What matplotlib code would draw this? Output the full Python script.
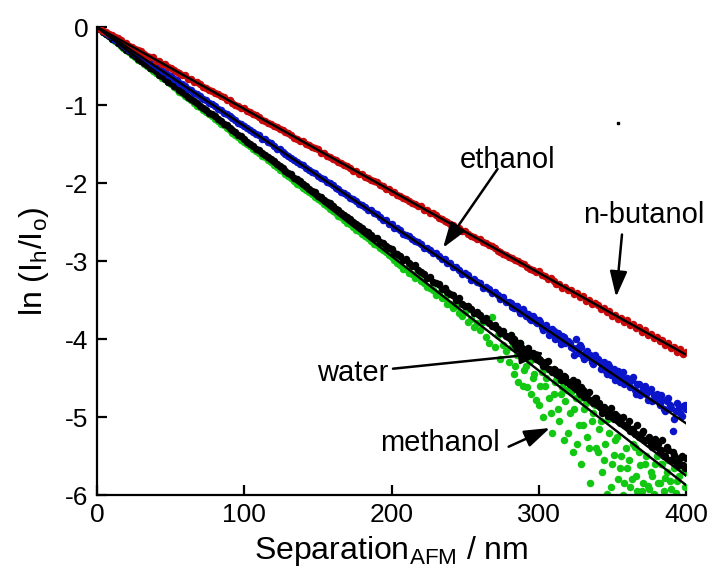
import numpy as np
import matplotlib
matplotlib.use("Agg")
import matplotlib.pyplot as plt

plt.rcParams['font.family'] = ['Liberation Sans', 'DejaVu Sans']

# sampling grid (nm) and the denser odd-nm points in the noisy tail
sep = np.arange(0, 401, 2)
sep_tail = np.arange(281, 400, 2)

# ln(Ih/Io) per liquid
butanol = [
    0.00, -0.02, -0.05, -0.06, -0.09, -0.10, -0.13, -0.14, -0.17, -0.20,
    -0.21, -0.24, -0.25, -0.28, -0.29, -0.31, -0.34, -0.37, -0.38, -0.39,
    -0.43, -0.44, -0.47, -0.48, -0.51, -0.52, -0.55, -0.58, -0.59, -0.61,
    -0.62, -0.66, -0.67, -0.70, -0.71, -0.73, -0.77, -0.78, -0.81, -0.82,
    -0.85, -0.86, -0.89, -0.90, -0.93, -0.94, -0.97, -1.00, -1.01, -1.04,
    -1.04, -1.08, -1.09, -1.12, -1.13, -1.15, -1.19, -1.20, -1.23, -1.24,
    -1.27, -1.28, -1.31, -1.32, -1.35, -1.36, -1.39, -1.42, -1.43, -1.46,
    -1.46, -1.50, -1.51, -1.54, -1.55, -1.57, -1.61, -1.62, -1.65, -1.66,
    -1.69, -1.70, -1.73, -1.74, -1.77, -1.78, -1.81, -1.84, -1.85, -1.88,
    -1.88, -1.92, -1.93, -1.96, -1.97, -1.99, -2.03, -2.04, -2.07, -2.08,
    -2.11, -2.12, -2.15, -2.16, -2.19, -2.20, -2.23, -2.26, -2.27, -2.30,
    -2.30, -2.34, -2.35, -2.38, -2.39, -2.41, -2.45, -2.46, -2.49, -2.50,
    -2.53, -2.54, -2.57, -2.58, -2.61, -2.62, -2.65, -2.68, -2.69, -2.72,
    -2.72, -2.76, -2.77, -2.80, -2.81, -2.83, -2.87, -2.88, -2.91, -2.92,
    -2.95, -2.96, -2.99, -3.00, -3.03, -3.04, -3.07, -3.10, -3.11, -3.14,
    -3.13, -3.18, -3.19, -3.23, -3.22, -3.25, -3.30, -3.29, -3.34, -3.33,
    -3.37, -3.37, -3.42, -3.41, -3.46, -3.45, -3.51, -3.50, -3.55, -3.54,
    -3.56, -3.61, -3.60, -3.65, -3.64, -3.70, -3.69, -3.74, -3.73, -3.78,
    -3.76, -3.82, -3.81, -3.86, -3.85, -3.91, -3.89, -3.95, -3.93, -3.99,
    -3.97, -4.03, -4.01, -4.07, -4.05, -4.12, -4.10, -4.16, -4.13, -4.19,
    -4.17]

ethanol = [
    0.00, -0.03, -0.05, -0.08, -0.10, -0.12, -0.16, -0.17, -0.21, -0.23,
    -0.25, -0.29, -0.30, -0.34, -0.35, -0.38, -0.41, -0.43, -0.46, -0.48,
    -0.51, -0.53, -0.57, -0.58, -0.61, -0.63, -0.67, -0.68, -0.72, -0.73,
    -0.76, -0.79, -0.81, -0.85, -0.86, -0.89, -0.92, -0.93, -0.97, -0.99,
    -1.01, -1.05, -1.06, -1.10, -1.11, -1.14, -1.17, -1.19, -1.23, -1.24,
    -1.27, -1.30, -1.32, -1.35, -1.37, -1.39, -1.43, -1.44, -1.48, -1.49,
    -1.52, -1.56, -1.57, -1.60, -1.63, -1.65, -1.68, -1.70, -1.73, -1.75,
    -1.77, -1.81, -1.83, -1.86, -1.87, -1.91, -1.93, -1.95, -1.99, -2.00,
    -2.03, -2.06, -2.08, -2.11, -2.13, -2.15, -2.19, -2.21, -2.23, -2.27,
    -2.28, -2.31, -2.34, -2.35, -2.39, -2.40, -2.44, -2.47, -2.48, -2.52,
    -2.53, -2.57, -2.58, -2.60, -2.65, -2.66, -2.68, -2.72, -2.74, -2.76,
    -2.78, -2.83, -2.83, -2.86, -2.90, -2.90, -2.94, -2.98, -2.98, -3.03,
    -3.03, -3.08, -3.08, -3.11, -3.16, -3.15, -3.18, -3.24, -3.23, -3.27,
    -3.28, -3.34, -3.33, -3.36, -3.41, -3.40, -3.44, -3.49, -3.46, -3.53,
    -3.52, -3.59, -3.57, -3.62, -3.66, -3.65, -3.70, -3.74, -3.71, -3.78,
    -3.76, -3.84, -3.83, -3.87, -3.93, -3.90, -3.92, -4.00, -3.96, -4.05,
    -4.02, -4.10, -4.20, -4.11, -4.08, -4.22, -4.16, -4.23, -4.30, -4.21,
    -4.25, -4.38, -4.30, -4.45, -4.35, -4.40, -4.52, -4.41, -4.47, -4.58,
    -4.50, -4.62, -4.48, -4.70, -4.58, -4.66, -4.60, -4.78, -4.64, -4.72,
    -4.70, -4.85, -4.78, -4.92, -4.75, -4.88, -5.02, -4.82, -4.95, -4.86,
    -4.90]

methanol = [
    0.00, -0.03, -0.06, -0.09, -0.11, -0.15, -0.17, -0.20, -0.23, -0.26,
    -0.29, -0.31, -0.35, -0.37, -0.41, -0.43, -0.46, -0.49, -0.52, -0.54,
    -0.57, -0.61, -0.63, -0.66, -0.70, -0.72, -0.75, -0.77, -0.81, -0.83,
    -0.86, -0.90, -0.92, -0.95, -0.97, -1.01, -1.04, -1.06, -1.10, -1.12,
    -1.14, -1.18, -1.21, -1.24, -1.26, -1.30, -1.32, -1.35, -1.39, -1.40,
    -1.43, -1.47, -1.50, -1.52, -1.56, -1.58, -1.61, -1.64, -1.67, -1.69,
    -1.72, -1.76, -1.78, -1.81, -1.84, -1.87, -1.89, -1.93, -1.95, -1.98,
    -2.01, -2.04, -2.07, -2.10, -2.12, -2.16, -2.18, -2.22, -2.24, -2.26,
    -2.29, -2.33, -2.35, -2.39, -2.41, -2.44, -2.46, -2.50, -2.52, -2.55,
    -2.57, -2.62, -2.63, -2.66, -2.70, -2.71, -2.75, -2.77, -2.81, -2.83,
    -2.84, -2.90, -2.91, -2.93, -2.99, -2.98, -3.03, -3.06, -3.05, -3.12,
    -3.14, -3.16, -3.22, -3.20, -3.27, -3.28, -3.30, -3.36, -3.34, -3.40,
    -3.42, -3.44, -3.50, -3.48, -3.55, -3.57, -3.58, -3.62, -3.66, -3.65,
    -3.69, -3.75, -3.73, -3.80, -3.83, -3.82, -3.87, -3.92, -3.90, -3.96,
    -3.98, -4.02, -4.07, -4.05, -4.10, -4.16, -4.15, -4.20, -4.18, -4.25,
    -4.25, -4.30, -4.34, -4.28, -4.40, -4.38, -4.45, -4.42, -4.50, -4.48,
    -4.55, -4.58, -4.62, -4.55, -4.70, -4.65, -4.72, -4.68, -4.80, -4.76,
    -4.85, -4.88, -4.87, -4.92, -4.95, -5.00, -4.96, -5.05, -5.02, -5.10,
    -5.12, -5.18, -5.15, -5.22, -5.25, -5.20, -5.30, -5.28, -5.35, -5.32,
    -5.38, -5.45, -5.30, -5.50, -5.42, -5.55, -5.48, -5.60, -5.52, -5.62,
    -5.52]

water = [
    0.00, -0.03, -0.06, -0.09, -0.12, -0.15, -0.18, -0.21, -0.24, -0.27,
    -0.30, -0.32, -0.36, -0.38, -0.42, -0.44, -0.47, -0.50, -0.53, -0.56,
    -0.59, -0.62, -0.65, -0.67, -0.71, -0.73, -0.77, -0.79, -0.83, -0.85,
    -0.89, -0.91, -0.94, -0.97, -1.01, -1.03, -1.06, -1.09, -1.12, -1.14,
    -1.18, -1.20, -1.24, -1.26, -1.30, -1.32, -1.36, -1.38, -1.41, -1.45,
    -1.47, -1.50, -1.53, -1.56, -1.59, -1.62, -1.65, -1.67, -1.71, -1.73,
    -1.77, -1.79, -1.83, -1.85, -1.89, -1.91, -1.94, -1.97, -2.01, -2.03,
    -2.06, -2.09, -2.12, -2.14, -2.18, -2.21, -2.23, -2.27, -2.29, -2.33,
    -2.36, -2.38, -2.42, -2.44, -2.47, -2.51, -2.53, -2.56, -2.60, -2.62,
    -2.65, -2.68, -2.71, -2.74, -2.78, -2.79, -2.83, -2.86, -2.88, -2.92,
    -2.95, -2.99, -3.02, -3.05, -3.10, -3.10, -3.15, -3.16, -3.22, -3.21,
    -3.26, -3.28, -3.33, -3.35, -3.37, -3.43, -3.41, -3.48, -3.47, -3.55,
    -3.55, -3.60, -3.58, -3.66, -3.70, -3.65, -3.78, -3.74, -3.85, -3.80,
    -3.88, -3.78, -3.98, -4.05, -3.72, -4.10, -3.95, -4.25, -4.08, -4.15,
    -4.30, -4.10, -4.35, -4.55, -4.20, -4.40, -4.62, -4.28, -4.50, -4.78,
    -4.85, -4.42, -4.60, -4.38, -4.95, -4.70, -4.52, -5.05, -4.62, -4.80,
    -5.20, -4.68, -4.90, -5.35, -4.75, -5.10, -4.82, -5.40, -5.05, -4.85,
    -5.45, -5.05, -5.55, -5.98, -5.20, -5.60, -5.30, -5.80, -5.50, -5.85,
    -5.65, -5.90, -5.35, -5.75, -5.45, -5.95, -5.60, -5.88, -5.70, -5.99,
    -5.50, -5.85, -5.60, -5.78, -5.55, -5.92, -5.65, -5.82, -5.60, -5.68,
    -5.70]

ethanol_tail = [
    -3.54, -3.60, -3.58, -3.66, -3.62, -3.70, -3.68, -3.76, -3.73, -3.80,
    -3.78, -3.88, -3.82, -3.95, -3.87, -4.00, -3.92, -4.06, -3.98, -4.02,
    -4.05, -4.12, -4.00, -4.18, -4.10, -4.25, -4.15, -4.20, -4.32, -4.24,
    -4.28, -4.35, -4.40, -4.32, -4.46, -4.38, -4.45, -4.55, -4.42, -4.52,
    -4.55, -4.52, -4.65, -4.58, -4.72, -4.62, -4.70, -4.66, -4.80, -4.74,
    -4.78, -4.72, -4.90, -4.80, -4.85, -5.18, -4.92, -4.88, -4.98, -4.84]

methanol_tail = [
    -3.95, -4.00, -4.12, -4.05, -4.13, -4.20, -4.12, -4.18, -4.22, -4.20,
    -4.27, -4.34, -4.30, -4.38, -4.42, -4.40, -4.46, -4.52, -4.47, -4.55,
    -4.58, -4.52, -4.64, -4.68, -4.62, -4.74, -4.70, -4.78, -4.82, -4.75,
    -4.82, -4.95, -4.90, -4.98, -4.88, -5.02, -4.98, -5.08, -5.00, -5.12,
    -5.05, -5.15, -5.22, -5.10, -5.26, -5.18, -5.30, -5.25, -5.38, -5.28,
    -5.35, -5.42, -5.50, -5.38, -5.55, -5.45, -5.58, -5.62, -5.50, -5.65]

water_tail = [
    -3.95, -4.45, -4.20, -4.05, -4.60, -4.35, -4.15, -4.70, -4.45, -4.25,
    -4.60, -5.00, -4.50, -4.75, -5.20, -4.55, -4.90, -4.70, -5.30, -4.65,
    -4.95, -5.45, -4.75, -5.10, -5.60, -4.90, -5.25, -5.85, -4.95, -5.40,
    -5.15, -5.70, -5.35, -5.02, -5.90, -5.48, -5.25, -5.65, -6.00, -5.40,
    -5.55, -5.80, -5.38, -5.95, -5.62, -5.85, -5.50, -5.92, -5.75, -5.60,
    -5.85, -5.60, -5.95, -5.70, -5.82, -5.55, -5.97, -5.75, -5.65, -5.90]

# slopes of the straight-line fits through the origin (per nm)
fit_slope = {'n-butanol': -0.0105, 'ethanol': -0.0127,
             'methanol': -0.01438, 'water': -0.01468}

fig = plt.figure(figsize=(7.11, 5.75), dpi=100)
ax = fig.add_axes([0.1364, 0.139, 0.8285, 0.814])

dot = dict(marker='o', ms=5.4, ls='none', mec='none')
ax.plot(sep, water, color='#12c812', **dot)
ax.plot(sep_tail, water_tail, color='#12c812', **dot)
ax.plot(sep, methanol, color='black', **dot)
ax.plot(sep_tail, methanol_tail, color='black', **dot)
ax.plot(sep, ethanol, color='#0a14c8', **dot)
ax.plot(sep_tail, ethanol_tail, color='#0a14c8', **dot)
ax.plot(sep, butanol, color='#c80a0a', **dot)

# fitted lines
xfit = np.array([0, 400])
for name in ['n-butanol', 'ethanol', 'methanol', 'water']:
    ax.plot(xfit, fit_slope[name] * xfit, color='black', lw=1.7)

# stray mark
ax.plot([354], [-1.23], marker='s', ms=1.5, color='black', ls='none')

# labels with arrows
arrow = dict(arrowstyle='-|>,head_length=0.65,head_width=0.22',
             color='black', lw=1.8, shrinkA=0, shrinkB=0, mutation_scale=24)
ax.text(279, -1.71, 'ethanol', fontsize=21, ha='center', va='center')
ax.annotate('', xy=(235, -2.83), xytext=(272, -1.82), arrowprops=arrow)
ax.text(371, -2.41, 'n-butanol', fontsize=21, ha='center', va='center')
ax.annotate('', xy=(352.5, -3.46), xytext=(356.5, -2.66), arrowprops=arrow)
ax.text(174, -4.44, 'water', fontsize=21, ha='center', va='center')
ax.annotate('', xy=(304, -4.18), xytext=(201, -4.38), arrowprops=arrow)
ax.text(233, -5.33, 'methanol', fontsize=21, ha='center', va='center')
ax.annotate('', xy=(307.6, -5.14), xytext=(279.5, -5.38), arrowprops=arrow)

ax.set_xlim(0, 400)
ax.set_ylim(-6, 0)
ax.set_xticks([0, 100, 200, 300, 400])
ax.set_yticks([0, -1, -2, -3, -4, -5, -6])
ax.set_yticklabels(['0', '-1', '-2', '-3', '-4', '-5', '-6'])
for side in ['top', 'right']:
    ax.spines[side].set_visible(False)
for side in ['left', 'bottom']:
    ax.spines[side].set_linewidth(1.6)
ax.tick_params(direction='in', length=7, width=1.6, labelsize=19, pad=6)

ax.set_xlabel(r'Separation$_\mathregular{AFM}$ / nm', fontsize=23, labelpad=5)
ax.set_ylabel(r'ln (I$_\mathregular{h}$/I$_\mathregular{o}$)', fontsize=23, labelpad=10)

plt.savefig('out.png', dpi=100)
